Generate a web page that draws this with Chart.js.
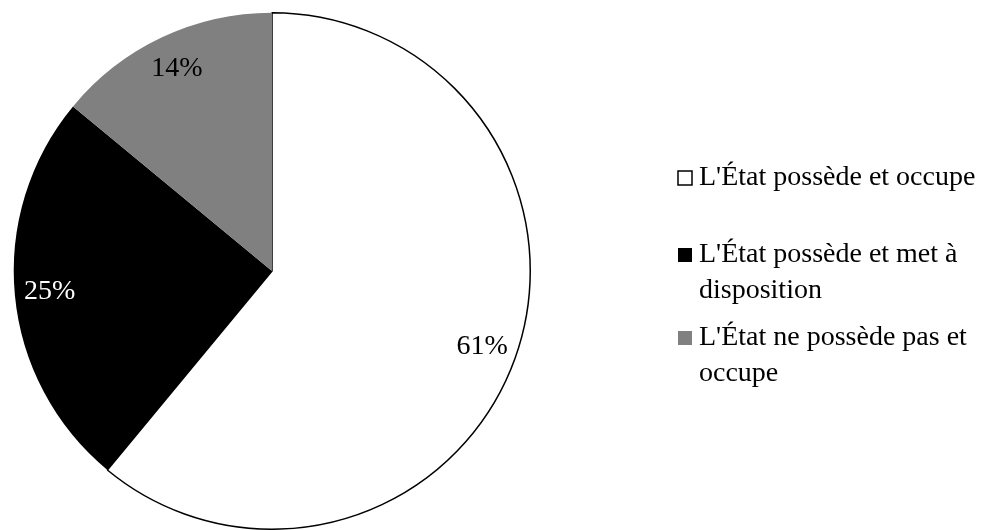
<!DOCTYPE html>
<html>
<head>
<meta charset="utf-8">
<script src="https://cdn.jsdelivr.net/npm/chart.js@4/dist/chart.umd.min.js"></script>
<style>
  html, body { margin: 0; padding: 0; background: #fff; }
  #pie { display: block; }
</style>
</head>
<body>
<canvas id="pie" width="987" height="530"></canvas>
<script>
// parts of the building stock, in percent
const categories = [
  "L'État possède et occupe",
  "L'État possède et met à disposition",
  "L'État ne possède pas et occupe"
];
// the same labels as they wrap in the legend
const legendLines = [
  ["L'État possède et occupe"],
  ["L'État possède et met à", "disposition"],
  ["L'État ne possède pas et", "occupe"]
];
const shares = [61, 25, 14];
const sliceColors = ["#ffffff", "#000000", "#808080"];
const labelColors = ["#000000", "#ffffff", "#000000"];

const FONT = "28px 'Liberation Serif', serif";

// percentage inside each slice
const sliceLabels = {
  id: "sliceLabels",
  afterDatasetsDraw(chart) {
    const ctx = chart.ctx;
    const arcs = chart.getDatasetMeta(0).data;
    ctx.save();
    ctx.font = FONT;
    ctx.textAlign = "center";
    ctx.textBaseline = "middle";
    arcs.forEach((arc, i) => {
      const mid = (arc.startAngle + arc.endAngle) / 2;
      const r = arc.outerRadius * 0.865;
      ctx.fillStyle = labelColors[i];
      ctx.fillText(shares[i] + "%", arc.x + Math.cos(mid) * r, arc.y + Math.sin(mid) * r);
    });
    ctx.restore();
  }
};

// legend on the right, with wrapped lines
const sideLegend = {
  id: "sideLegend",
  afterDraw(chart) {
    const ctx = chart.ctx;
    const boxX = 678, textX = 699, box = 14, lineH = 36;
    const firstBaselines = [185, 262, 345];
    ctx.save();
    ctx.font = FONT;
    ctx.textAlign = "left";
    ctx.textBaseline = "alphabetic";
    legendLines.forEach((lines, i) => {
      const base = firstBaselines[i];
      ctx.fillStyle = sliceColors[i];
      ctx.fillRect(boxX, base - box, box, box);
      if (i === 0) {
        ctx.strokeStyle = "#000";
        ctx.lineWidth = 1.5;
        ctx.strokeRect(boxX, base - box, box, box);
      }
      ctx.fillStyle = "#000";
      lines.forEach((t, j) => ctx.fillText(t, textX, base + j * lineH));
    });
    ctx.restore();
  }
};

new Chart(document.getElementById("pie").getContext("2d"), {
  type: "pie",
  data: {
    labels: categories,
    datasets: [{
      data: shares,
      backgroundColor: sliceColors,
      borderColor: "#000000",
      borderWidth: [1.5, 0, 0]
    }]
  },
  options: {
    responsive: false,
    animation: false,
    devicePixelRatio: 1,
    layout: { padding: { left: 12, top: 12, right: 455, bottom: 0 } },
    plugins: {
      legend: { display: false },
      tooltip: { enabled: false }
    }
  },
  plugins: [sliceLabels, sideLegend]
});
</script>
</body>
</html>
